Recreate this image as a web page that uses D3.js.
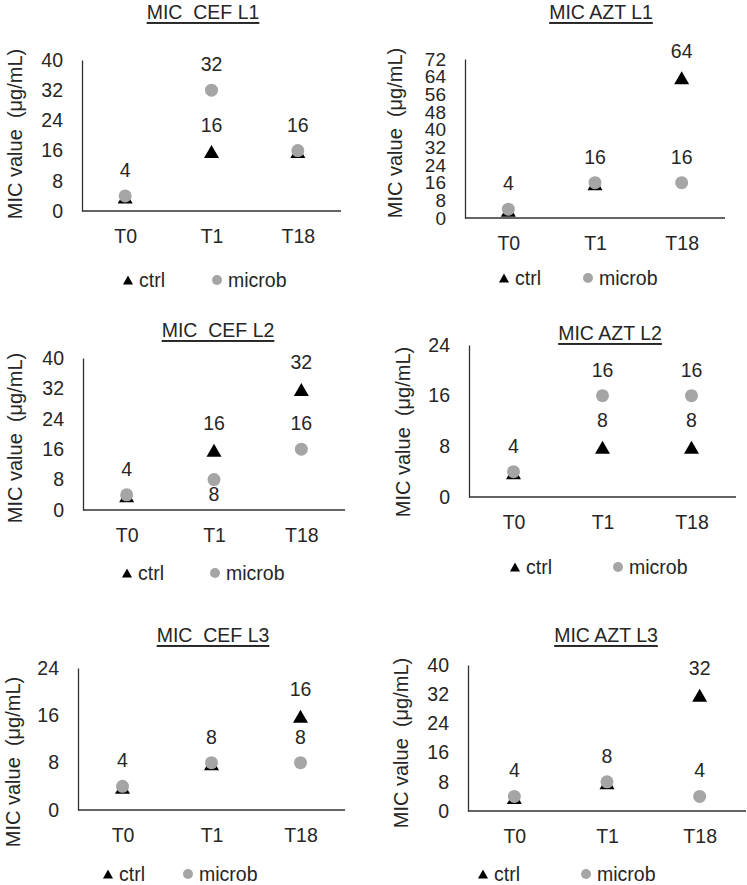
<!DOCTYPE html>
<html>
<head>
<meta charset="utf-8">
<script src="https://cdn.jsdelivr.net/npm/d3@7"></script>
<style>
  html, body { margin: 0; padding: 0; background: #fff; }
  svg { display: block; font-family: "Liberation Sans", Arial, sans-serif; }
</style>
</head>
<body>
<svg id="chart" width="747" height="885"></svg>
<script>
// ---------- data ----------
const panelTitles = ["MIC  CEF L1", "MIC AZT L1", "MIC  CEF L2", "MIC AZT L2", "MIC  CEF L3", "MIC AZT L3"];
const categories = ["T0", "T1", "T18"];
const seriesNames = ["ctrl", "microb"];
const ctrlValues = [
  [4, 16, 16],
  [4, 16, 64],
  [4, 16, 32],
  [4, 8, 8],
  [4, 8, 16],
  [4, 8, 32]
];
const microbValues = [
  [4, 32, 16],
  [4, 16, 16],
  [4, 8, 16],
  [4, 16, 16],
  [4, 8, 8],
  [4, 8, 4]
];
const yMaxValues = [40, 72, 40, 24, 24, 40];
const yTickStep = 8;
const yAxisTitle = "MIC value  (\u03bcg/mL)";
// labels drawn below their marker: [panel, series, category]
const labelsBelow = [[2, "microb", 1]];

// ---------- layout ----------
const layout = [
  {x0: 82,  x1: 341, yTop: 60,  yBot: 211, tx: 203, ty: 12,  ly: 280, lt: 128, lc: 217, ax: 15,  ay: 134, narrow: false},
  {x0: 465, x1: 725, yTop: 59,  yBot: 218, tx: 601, ty: 12,  ly: 278, lt: 504, lc: 588, ax: 395, ay: 133, narrow: true},
  {x0: 83,  x1: 345, yTop: 358, yBot: 510, tx: 218, ty: 330, ly: 573, lt: 127, lc: 215, ax: 15,  ay: 438, narrow: false},
  {x0: 469, x1: 736, yTop: 345, yBot: 497, tx: 610, ty: 333, ly: 567, lt: 515, lc: 618, ax: 403, ay: 432, narrow: false},
  {x0: 78,  x1: 345, yTop: 668, yBot: 810, tx: 213, ty: 635, ly: 874, lt: 108, lc: 188, ax: 13,  ay: 762, narrow: false},
  {x0: 468, x1: 746, yTop: 665, yBot: 811, tx: 606, ty: 635, ly: 874, lt: 483, lc: 586, ax: 401, ay: 743, narrow: false}
];

const TEXT = "#262626";
const GRAY = "#a5a5a5";
const FS = 19.5;
const FS_AXIS_TITLE = 20;

const svg = d3.select("#chart");

function triPath(w, h) {
  return `M0,${-h/2}L${w/2},${h/2}L${-w/2},${h/2}Z`;
}

layout.forEach((L, i) => {
  const g = svg.append("g");
  const x = d3.scalePoint().domain(categories).range([L.x0, L.x1]).padding(0.5);
  const y = d3.scaleLinear().domain([0, yMaxValues[i]]).range([L.yBot, L.yTop]);

  // title
  g.append("text")
    .attr("x", L.tx).attr("y", L.ty)
    .attr("text-anchor", "middle").attr("dominant-baseline", "central")
    .attr("font-size", FS).attr("fill", TEXT)
    .style("text-decoration", "underline")
    .style("white-space", "pre")
    .text(panelTitles[i]);

  // y axis
  const ticks = d3.range(0, yMaxValues[i] + 0.001, yTickStep);
  const yAxis = d3.axisLeft(y).tickValues(ticks).tickSize(0).tickPadding(19).tickFormat(d3.format("d"));
  const ya = g.append("g").attr("transform", `translate(${L.x0},0)`).call(yAxis);
  ya.select(".domain").attr("stroke", "#303030").attr("stroke-width", 1.3);
  ya.selectAll("text").attr("font-size", L.narrow ? 19 : FS).attr("fill", TEXT)
    .attr("font-family", L.narrow ? "'Liberation Sans Narrow', 'Liberation Sans', Arial, sans-serif" : null);

  // x axis
  const xAxis = d3.axisBottom(x).tickSize(0).tickSizeOuter(0).tickPadding(18);
  const xa = g.append("g").attr("transform", `translate(0,${L.yBot})`).call(xAxis);
  xa.select(".domain").attr("stroke", "#303030").attr("stroke-width", 1.3)
    .attr("d", `M${L.x0},0H${L.x1}`);
  xa.selectAll("text").attr("font-size", FS).attr("fill", TEXT);

  // axis title
  g.append("text")
    .attr("transform", `translate(${L.ax},${L.ay}) rotate(-90)`)
    .attr("text-anchor", "middle").attr("dominant-baseline", "central")
    .attr("font-size", FS_AXIS_TITLE).attr("fill", TEXT)
    .style("white-space", "pre")
    .text(yAxisTitle);

  // points
  const microb = categories.map((c, j) => ({c, v: microbValues[i][j], j}));
  const ctrl = categories.map((c, j) => ({c, v: ctrlValues[i][j], j}));

  g.selectAll("path.ctrl").data(ctrl).join("path")
    .attr("class", "ctrl")
    .attr("d", triPath(15, 13))
    .attr("transform", d => `translate(${x(d.c)},${y(d.v) + 1})`)
    .attr("fill", "#000");

  g.selectAll("circle.microb").data(microb).join("circle")
    .attr("class", "microb")
    .attr("cx", d => x(d.c)).attr("cy", d => y(d.v)).attr("r", 6.5)
    .attr("fill", GRAY);

  // data labels
  const labels = [];
  categories.forEach((c, j) => {
    const a = ctrlValues[i][j], b = microbValues[i][j];
    if (a === b) {
      labels.push({c, v: a, s: "both", j});
    } else {
      labels.push({c, v: a, s: "ctrl", j});
      labels.push({c, v: b, s: "microb", j});
    }
  });
  g.selectAll("text.dl").data(labels).join("text")
    .attr("class", "dl")
    .attr("x", d => x(d.c))
    .attr("y", d => {
      const below = labelsBelow.some(q => q[0] === i && q[1] === d.s && q[2] === d.j);
      return below ? y(d.v) + 14 : y(d.v) - 26;
    })
    .attr("text-anchor", "middle").attr("dominant-baseline", "central")
    .attr("font-size", FS).attr("fill", TEXT)
    .text(d => d.v);

  // legend
  const lg = g.append("g");
  lg.append("path").attr("d", triPath(10, 9))
    .attr("transform", `translate(${L.lt},${L.ly})`).attr("fill", "#000");
  lg.append("text").attr("x", L.lt + 11).attr("y", L.ly)
    .attr("dominant-baseline", "central").attr("font-size", FS).attr("fill", TEXT)
    .text(seriesNames[0]);
  lg.append("circle").attr("cx", L.lc).attr("cy", L.ly).attr("r", 5).attr("fill", GRAY);
  lg.append("text").attr("x", L.lc + 11).attr("y", L.ly)
    .attr("dominant-baseline", "central").attr("font-size", FS).attr("fill", TEXT)
    .text(seriesNames[1]);
});
</script>
</body>
</html>
